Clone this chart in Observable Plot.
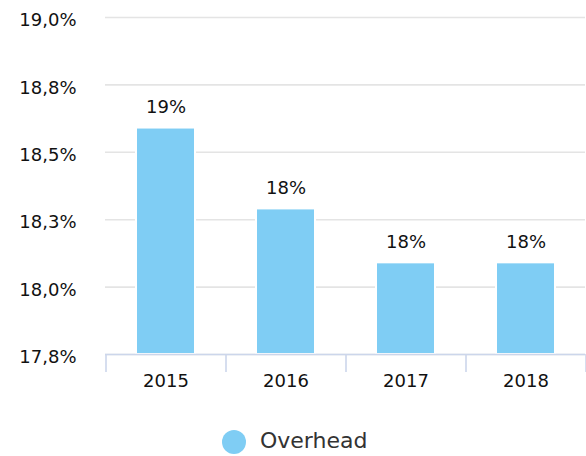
<!DOCTYPE html>
<html><head><meta charset="utf-8">
<script src="https://cdn.jsdelivr.net/npm/d3@7"></script>
<script src="https://cdn.jsdelivr.net/npm/@observablehq/plot@0.6"></script>
<style>
body{margin:0;background:#fff;font-family:"DejaVu Sans",Verdana,sans-serif;}
#chart{width:586px;}
#legend{position:relative;height:46px;width:586px;}
#legend .dot{position:absolute;left:222px;top:20px;width:24px;height:24px;border-radius:50%;}
#legend .lab{position:absolute;left:260px;top:17px;font-size:22px;line-height:28px;color:#333;}
</style></head><body>
<div id="chart"></div>
<div id="legend"><span class="dot"></span><span class="lab"></span></div>
<script>
const years = ["2015", "2016", "2017", "2018"];
const overhead = [18.59, 18.29, 18.09, 18.09];
const barLabels = ["19%", "18%", "18%", "18%"];
const yTicks = [17.75, 18, 18.25, 18.5, 18.75, 19];
const yTickLabels = ["17,8%", "18,0%", "18,3%", "18,5%", "18,8%", "19,0%"];
const seriesName = "Overhead";
const barColor = "#7fcdf4";

const data = years.map((y, i) => ({year: y, value: overhead[i], label: barLabels[i]}));

const chart = Plot.plot({
  width: 586, height: 410,
  marginTop: 17, marginBottom: 56, marginLeft: 105, marginRight: 1,
  style: {fontFamily: "DejaVu Sans, Verdana, sans-serif", fontSize: "18px", color: "#111", background: "#fff"},
  x: {domain: years, paddingInner: 0.51, paddingOuter: 0.255, label: null},
  y: {domain: [17.75, 19], label: null},
  marks: [
    Plot.gridY(yTicks, {stroke: "#e4e4e4", strokeOpacity: 1, strokeWidth: 1.6}),
    Plot.barY(data, {x: "year", y1: 17.75, y2: "value", fill: barColor, stroke: "#fff", strokeWidth: 2}),
    Plot.ruleY([17.75], {stroke: "#ccd6eb", strokeWidth: 1.6}),
    Plot.axisY(yTicks, {tickSize: 0, tickPadding: 29, tickFormat: d => yTickLabels[yTicks.indexOf(d)], dy: 3, fill: "#111"}),
    Plot.axisX({tickSize: 0, tickPadding: 20, fill: "#111"}),
    Plot.axisX(years, {tickSize: 18, tickFormat: () => "", dx: -60, stroke: "#ccd6eb", strokeWidth: 1.6}),
    Plot.axisX([years[years.length - 1]], {tickSize: 18, tickFormat: () => "", dx: 60, stroke: "#ccd6eb", strokeWidth: 1.6}),
    Plot.text(data, {x: "year", y: "value", text: "label", dy: -21, fill: "#111"})
  ]
});
document.getElementById("chart").append(chart);
document.querySelector("#legend .dot").style.background = barColor;
document.querySelector("#legend .lab").textContent = seriesName;
</script>
</body></html>
